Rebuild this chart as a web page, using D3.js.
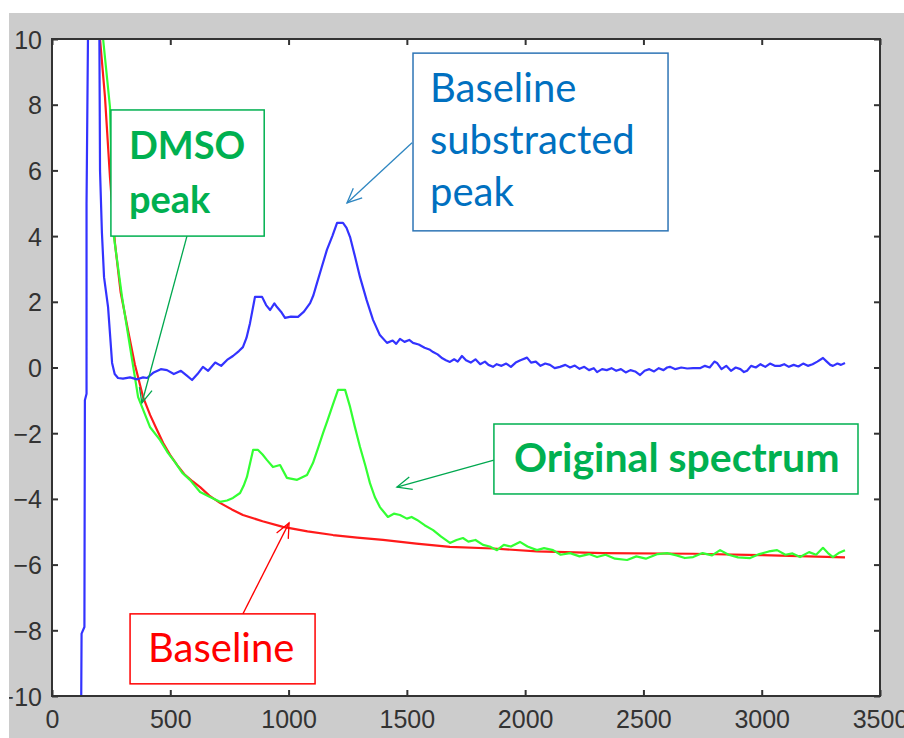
<!DOCTYPE html>
<html><head><meta charset="utf-8">
<script src="https://cdn.jsdelivr.net/npm/d3@7"></script>
<style>html,body{margin:0;padding:0;background:#fff;}svg{display:block;}</style>
</head><body>
<svg id="chart" width="904" height="738"></svg>
<script>
// ---------- data ----------
const xTicks = [0, 500, 1000, 1500, 2000, 2500, 3000, 3500];
const yTicks = [-10, -8, -6, -4, -2, 0, 2, 4, 6, 8, 10];

const subtractedX = [122,125,137,139,146,146,152,154,199,203,211,220,237,254,265,279,300,330,360,385,402,430,460,486,515,545,570,592,615,638,660,690,715,740,765,790,807,822,837,858,888,905,922,940,951,968,985,1010,1040,1065,1091,1105,1120,1140,1162,1185,1205,1230,1245,1260,1280,1302,1330,1357,1385,1416,1440,1455,1471,1490,1510,1526,1550,1575,1595,1611,1630,1650,1665,1682,1700,1715,1733,1750,1770,1790,1810,1830,1845,1864,1880,1900,1920,1940,1960,1980,2008,2025,2045,2065,2085,2105,2125,2147,2170,2190,2210,2230,2250,2270,2290,2304,2325,2345,2365,2385,2405,2425,2445,2465,2486,2505,2525,2545,2565,2585,2600,2612,2635,2660,2685,2710,2739,2760,2780,2800,2811,2830,2850,2870,2890,2910,2925,2938,2955,2975,2995,3015,3035,3055,3077,3095,3115,3135,3155,3175,3195,3215,3235,3259,3275,3290,3301,3320,3335,3352];
const subtractedY = [-12,-8.1,-7.9,-1.0,-0.8,5.0,10,12,12,6.0,4.1,2.75,1.84,0.14,-0.2,-0.32,-0.34,-0.3,-0.36,-0.3,-0.32,-0.15,-0.05,-0.08,-0.2,-0.1,-0.25,-0.38,-0.2,0.02,-0.1,0.15,0.05,0.23,0.35,0.5,0.62,0.9,1.35,2.15,2.15,1.9,1.75,1.95,1.84,1.7,1.51,1.55,1.54,1.7,1.96,2.2,2.57,3.05,3.58,4.0,4.40,4.40,4.25,3.97,3.4,2.75,2.05,1.45,1.0,0.75,0.82,0.72,0.87,0.78,0.84,0.75,0.70,0.60,0.55,0.47,0.40,0.28,0.22,0.17,0.25,0.18,0.35,0.22,0.15,0.25,0.10,0.18,0.08,0.02,0.10,0.05,0.12,0.02,0.15,0.22,0.30,0.15,0.18,0.05,0.12,0.08,-0.02,0.02,0.08,0.00,0.06,-0.04,0.02,-0.08,-0.02,-0.14,-0.05,-0.08,-0.02,-0.10,-0.05,-0.15,-0.08,-0.12,-0.23,-0.10,-0.05,-0.12,-0.02,-0.08,0.00,0.02,-0.05,0.00,-0.03,-0.02,-0.02,0.05,0.00,0.18,0.14,-0.05,0.05,-0.10,0.00,-0.05,-0.14,-0.10,0.05,0.00,0.10,0.02,0.12,0.05,0.05,0.10,0.02,0.08,0.03,0.12,0.05,0.10,0.18,0.29,0.18,0.08,0.05,0.12,0.08,0.14];

const originalX = [210,216,245,258,296,330,364,414,457,490,520,550,583,626,668,710,740,765,795,810,824,850,871,890,909,934,964,993,1036,1078,1103,1125,1146,1165,1184,1209,1239,1260,1280,1302,1325,1344,1365,1386,1420,1445,1471,1500,1520,1543,1575,1611,1645,1682,1710,1737,1760,1790,1822,1850,1881,1910,1940,1978,2010,2050,2080,2118,2150,2190,2230,2270,2304,2340,2380,2431,2470,2510,2560,2600,2640,2675,2710,2750,2790,2824,2860,2900,2951,2990,3030,3065,3100,3130,3162,3200,3230,3259,3280,3301,3325,3352];
const originalY = [12,10,7.93,4.18,2.15,0.62,-0.90,-1.81,-2.21,-2.6,-2.88,-3.2,-3.42,-3.79,-3.94,-4.09,-4.05,-3.97,-3.82,-3.6,-3.33,-2.51,-2.51,-2.65,-2.82,-3.03,-2.97,-3.36,-3.42,-3.27,-2.91,-2.45,-1.99,-1.6,-1.20,-0.68,-0.68,-1.20,-1.8,-2.42,-3.0,-3.52,-3.95,-4.25,-4.55,-4.45,-4.49,-4.6,-4.55,-4.64,-4.8,-4.95,-5.15,-5.34,-5.25,-5.19,-5.3,-5.25,-5.40,-5.45,-5.56,-5.4,-5.45,-5.31,-5.45,-5.56,-5.5,-5.56,-5.7,-5.65,-5.75,-5.68,-5.77,-5.7,-5.82,-5.86,-5.75,-5.82,-5.68,-5.65,-5.72,-5.8,-5.77,-5.65,-5.72,-5.56,-5.7,-5.78,-5.80,-5.68,-5.6,-5.56,-5.7,-5.66,-5.77,-5.62,-5.7,-5.49,-5.65,-5.77,-5.65,-5.56];

const baselineX = [190,203,224,245,266,290,321,350,385,415,444,470,499,530,562,595,626,665,710,760,807,890,976,1080,1188,1290,1399,1540,1682,1864,2050,2329,2710,2993,3352];
const baselineY = [12,10,8.23,5.8,3.79,2.3,1.14,0.1,-0.90,-1.45,-1.90,-2.3,-2.66,-2.98,-3.27,-3.47,-3.64,-3.9,-4.12,-4.32,-4.49,-4.68,-4.85,-4.99,-5.10,-5.18,-5.25,-5.36,-5.46,-5.51,-5.60,-5.65,-5.67,-5.71,-5.78];

// annotations: box corners and arrow (tail -> tip) in data units
const annotationLabels = [["DMSO","peak"],["Baseline","substracted","peak"],["Original spectrum"],["Baseline"]];
const annotationBoxX = [[249,897],[1526,2604],[1868,3407],[330,1112]];
const annotationBoxY = [[7.84,4.00],[9.57,4.16],[-1.72,-3.85],[-7.50,-9.63]];
const arrowFrom = [[575,4.12],[1522,6.84],[1868,-2.82],[807,-7.50]];
const arrowTo = [[380,-1.08],[1247,5.01],[1458,-3.64],[1002,-4.73]];

// ---------- drawing ----------
const svg = d3.select("#chart");
const W = 904, H = 738;
const plot = {left: 52, right: 880, top: 39, bottom: 696};

svg.append("rect").attr("x", 9).attr("y", 13).attr("width", W - 9).attr("height", H - 13).attr("fill", "#cccccc");

const defs = svg.append("defs");
defs.append("clipPath").attr("id", "plotclip").append("rect")
  .attr("x", plot.left).attr("y", plot.top).attr("width", plot.right - plot.left).attr("height", plot.bottom - plot.top);
defs.append("clipPath").attr("id", "figclip").append("rect")
  .attr("x", 9).attr("y", 13).attr("width", W - 9).attr("height", H - 13);

const x = d3.scaleLinear().domain([0, 3500]).range([plot.left, plot.right]);
const y = d3.scaleLinear().domain([-10, 10]).range([plot.bottom, plot.top]);

svg.append("rect").attr("x", plot.left).attr("y", plot.top)
  .attr("width", plot.right - plot.left).attr("height", plot.bottom - plot.top).attr("fill", "#fff");

const line = d3.line().x(d => x(d[0])).y(d => y(d[1]));
const lines = svg.append("g").attr("clip-path", "url(#plotclip)");
const series = [
  {xs: baselineX, ys: baselineY, color: "#ff1a1a"},
  {xs: originalX, ys: originalY, color: "#33ff33"},
  {xs: subtractedX, ys: subtractedY, color: "#3333ff"}
];
series.forEach(s => {
  lines.append("path").datum(s.xs.map((v, i) => [v, s.ys[i]]))
    .attr("d", line).attr("fill", "none").attr("stroke", s.color)
    .attr("stroke-width", 2.2).attr("stroke-linejoin", "round");
});

// axes
const axisColor = "#333";
const fontAxis = "'Liberation Sans', Arial, sans-serif";
const axesG = svg.append("g").attr("clip-path", "url(#figclip)");
const gb = axesG.append("g").attr("transform", `translate(0,${plot.bottom})`)
  .call(d3.axisBottom(x).tickValues(xTicks).tickSize(-6).tickPadding(14).tickFormat(d3.format("d")));
const gl = axesG.append("g").attr("transform", `translate(${plot.left},0)`)
  .call(d3.axisLeft(y).tickValues(yTicks).tickSize(-6).tickPadding(10).tickFormat(d3.format("d")));
const gt = axesG.append("g").attr("transform", `translate(0,${plot.top})`)
  .call(d3.axisTop(x).tickValues(xTicks).tickSize(-6).tickFormat(""));
const gr = axesG.append("g").attr("transform", `translate(${plot.right},0)`)
  .call(d3.axisRight(y).tickValues(yTicks).tickSize(-6).tickFormat(""));
[gb, gl, gt, gr].forEach(g => {
  g.select(".domain").remove();
  g.selectAll(".tick line").attr("stroke", axisColor).attr("stroke-width", 2);
  g.selectAll(".tick text").attr("fill", axisColor).attr("font-size", 25).attr("font-family", fontAxis);
});
gl.selectAll(".tick text").attr("dy", "0.36em");
svg.append("rect").attr("x", plot.left).attr("y", plot.top)
  .attr("width", plot.right - plot.left).attr("height", plot.bottom - plot.top)
  .attr("fill", "none").attr("stroke", axisColor).attr("stroke-width", 2);

// annotations
const annStyles = [
  {stroke: "#00b050", text: "#00b050", weight: "bold", size: [38, 38], arrow: "#00a84f", dx: 18, first: 49, lh: 54},
  {stroke: "#2e75b6", text: "#0070c0", weight: "normal", size: [40, 40, 40], arrow: "#2e86c1", dx: 17, first: 49, lh: 52},
  {stroke: "#00b050", text: "#00b050", weight: "bold", size: [41], arrow: "#00a84f", dx: 20, first: 48, lh: 52},
  {stroke: "#ff0000", text: "#ff0000", weight: "normal", size: [40], arrow: "#ff0000", dx: 18, first: 48, lh: 52}
];
const ann = svg.append("g");
annotationLabels.forEach((lbls, i) => {
  const st = annStyles[i];
  const [fx, fy] = [x(arrowFrom[i][0]), y(arrowFrom[i][1])];
  const [tx, ty] = [x(arrowTo[i][0]), y(arrowTo[i][1])];
  const ang = Math.atan2(ty - fy, tx - fx);
  const hl = 16, ha = 0.42;
  const p1 = [tx - hl * Math.cos(ang - ha), ty - hl * Math.sin(ang - ha)];
  const p2 = [tx - hl * Math.cos(ang + ha), ty - hl * Math.sin(ang + ha)];
  ann.append("line").attr("x1", fx).attr("y1", fy).attr("x2", tx).attr("y2", ty)
    .attr("stroke", st.arrow).attr("stroke-width", 1.3);
  ann.append("path").attr("d", `M${p1[0]},${p1[1]}L${tx},${ty}L${p2[0]},${p2[1]}`)
    .attr("fill", "none").attr("stroke", st.arrow).attr("stroke-width", 1.3);
});
annotationLabels.forEach((lbls, i) => {
  const st = annStyles[i];
  const bx0 = x(annotationBoxX[i][0]), bx1 = x(annotationBoxX[i][1]);
  const by0 = y(annotationBoxY[i][0]), by1 = y(annotationBoxY[i][1]);
  ann.append("rect").attr("x", bx0).attr("y", by0).attr("width", bx1 - bx0).attr("height", by1 - by0)
    .attr("fill", "#fff").attr("stroke", st.stroke).attr("stroke-width", 1.5);
  lbls.forEach((t, j) => {
    ann.append("text").attr("x", bx0 + st.dx).attr("y", by0 + st.first + j * st.lh)
      .attr("fill", st.text).attr("font-family", "Lato, 'Open Sans', sans-serif")
      .attr("font-weight", st.weight).attr("font-size", st.size[j]).text(t);
  });
});
</script>
</body></html>
